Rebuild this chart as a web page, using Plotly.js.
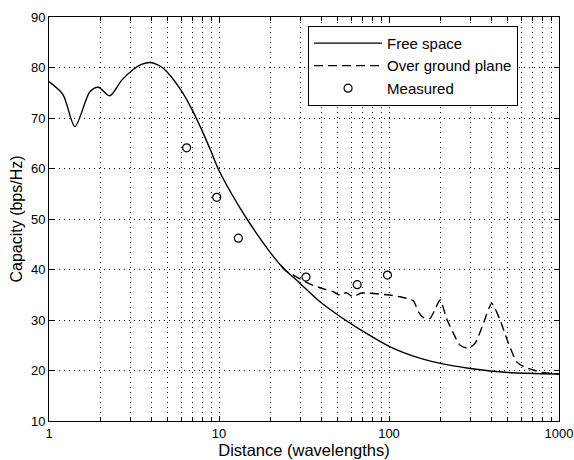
<!DOCTYPE html>
<html>
<head>
<meta charset="utf-8">
<script src="https://cdn.plot.ly/plotly-3.0.1.min.js"></script>
<style>html,body{margin:0;padding:0;background:#fff;}#chart{width:574px;height:460px;}</style>
</head>
<body>
<div id="chart"></div>
<script>
// Free space
var freeX = [1, 1.21, 1.42, 1.74, 1.95, 2.28, 2.68, 3.13, 3.5, 3.92, 4.5, 4.92, 6, 7, 8, 9, 10, 12, 14.6, 19.5, 23.4, 29.9, 39.3, 51.5, 70, 100, 150, 200, 300, 500, 1000];
var freeY = [77.2, 74.6, 68.3, 75.2, 76.1, 74.4, 77.5, 79.6, 80.6, 81.0, 80.3, 79.2, 75.4, 71.4, 67.3, 63.3, 59.6, 54.7, 50, 43.9, 40.6, 37.3, 33.6, 30.7, 27.8, 24.8, 22.5, 21.4, 20.4, 19.6, 19.3];
// Over ground plane
var groundX = [23.4, 25, 28, 34.3, 42.6, 47, 51.5, 56, 61.7, 68, 77.3, 96.9, 116, 139, 149, 159, 174, 186, 200, 218, 239, 262, 293, 321, 359, 402, 450, 504, 564, 617, 706, 800, 1000];
var groundY = [40.6, 39.6, 38.7, 37.1, 36.0, 35.6, 34.9, 35.4, 34.6, 35.3, 35.3, 35, 34.6, 33.8, 31.6, 30.5, 30.3, 32, 34, 30.3, 27.4, 25, 24.4, 25.4, 29.3, 33.3, 30, 25.4, 21.7, 20.8, 20.1, 19.6, 19.3];
// Measured
var measX = [6.45, 9.7, 13, 32.5, 65, 98];
var measY = [64.1, 54.3, 46.2, 38.5, 37.0, 38.9];
// Tick labels
var xTickVals = [1, 10, 100, 1000];
var xTickText = ['1', '10', '100', '1000'];
var yTickVals = [10, 20, 30, 40, 50, 60, 70, 80, 90];

var font = 'Arial, "Liberation Sans", sans-serif';

var traces = [
  {x: freeX, y: freeY, type: 'scatter', mode: 'lines', name: 'Free space',
   line: {color: '#000', width: 1.4, shape: 'spline', smoothing: 0.8}},
  {x: groundX, y: groundY, type: 'scatter', mode: 'lines', name: 'Over ground plane',
   line: {color: '#000', width: 1.4, dash: '9px,5px', shape: 'spline', smoothing: 0.6}},
  {x: measX, y: measY, type: 'scatter', mode: 'markers', name: 'Measured',
   marker: {symbol: 'circle-open', size: 8, color: '#000', line: {width: 1.2, color: '#000'}}}
];

var layout = {
  width: 574, height: 460,
  margin: {l: 49, r: 15, t: 17, b: 39},
  paper_bgcolor: '#fff', plot_bgcolor: '#fff',
  font: {family: font, size: 13, color: '#000'},
  showlegend: true,
  legend: {x: 0.508, y: 0.978, xanchor: 'left', yanchor: 'top',
           bgcolor: '#fff', bordercolor: '#000', borderwidth: 1,
           font: {family: font, size: 15, color: '#000'}, itemwidth: 68},
  xaxis: {
    type: 'log', range: [0, 3],
    tickvals: xTickVals, ticktext: xTickText,
    ticks: 'inside', ticklen: 5, tickcolor: '#000',
    showline: true, linecolor: '#000', linewidth: 1, mirror: 'ticks',
    showgrid: true, gridcolor: '#000', gridwidth: 1, griddash: '1px,4px',
    zeroline: false,
    minor: {dtick: 'D1', ticks: 'inside', ticklen: 4, tickcolor: '#000',
            showgrid: true, gridcolor: '#000', gridwidth: 1, griddash: '1px,4px'},
    tickfont: {family: font, size: 13, color: '#000'},
    title: {text: 'Distance (wavelengths)', font: {family: font, size: 16.5, color: '#000'}, standoff: 3}
  },
  yaxis: {
    range: [10, 90], tickvals: yTickVals,
    ticks: 'inside', ticklen: 5, tickcolor: '#000',
    showline: true, linecolor: '#000', linewidth: 1, mirror: 'ticks',
    showgrid: true, gridcolor: '#000', gridwidth: 1, griddash: '1px,4px',
    zeroline: false,
    tickfont: {family: font, size: 13, color: '#000'},
    title: {text: 'Capacity (bps/Hz)', font: {family: font, size: 16, color: '#000'}, standoff: 4}
  }
};

Plotly.newPlot('chart', traces, layout, {displayModeBar: false, staticPlot: true});
</script>
</body>
</html>
